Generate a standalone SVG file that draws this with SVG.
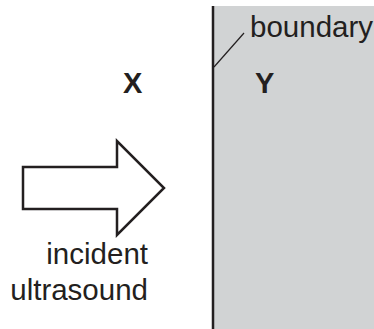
<svg xmlns="http://www.w3.org/2000/svg" width="374" height="329" viewBox="0 0 374 329">
<style>
.t{font-family:"Liberation Sans",Arial,sans-serif;font-size:29.5px;fill:#231f20}
.b{font-weight:bold;font-size:29px}
.ln{stroke:#231f20;fill:none}
</style>
<rect width="374" height="329" fill="#ffffff"/>
<g id="regionY">
<rect x="213" y="6" width="161" height="323" fill="#d1d3d4"/>
<line class="ln" x1="213" y1="6" x2="213" y2="329" stroke-width="2.5"/>
<text class="t b" x="255" y="93">Y</text>
</g>
<g id="regionX">
<text class="t b" x="123" y="93">X</text>
</g>
<g id="boundaryLabel">
<text class="t" x="250" y="37">boundary</text>
</g>
<g id="connectors">
<line class="ln" x1="214" y1="67" x2="244" y2="33" stroke-width="1.2"/>
</g>
<g id="arrow">
<polygon class="ln" points="23,167 117,167 117,141 164,188 117,235 117,209 23,209" stroke-width="2.5" fill="#ffffff"/>
<text class="t" x="148" y="264" text-anchor="end">incident</text>
<text class="t" x="148" y="300" text-anchor="end">ultrasound</text>
</g>
</svg>
